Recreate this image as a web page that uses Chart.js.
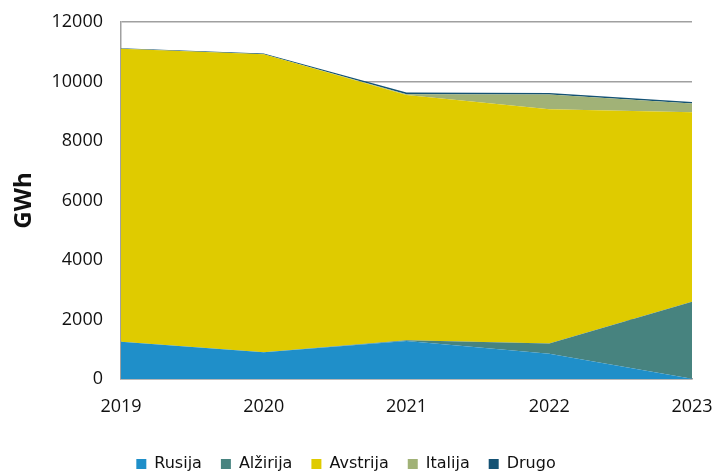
<!DOCTYPE html>
<html>
<head>
<meta charset="utf-8">
<script src="https://cdn.jsdelivr.net/npm/chart.js@4.4.1/dist/chart.umd.min.js"></script>
<style>
  html, body { margin: 0; padding: 0; background: #ffffff; }
  #wrap { width: 720px; height: 472px; }
</style>
</head>
<body>
<div id="wrap"><canvas id="chart" width="720" height="472"></canvas></div>
<script>
// Chart data
const years = ['2019', '2020', '2021', '2022', '2023'];
const rusija = [1250, 900, 1280, 850, 10];
const alzirija = [0, 0, 20, 340, 2590];
const avstrija = [9850, 10020, 8250, 7880, 6370];
const italija = [0, 0, 20, 490, 290];
const drugo = [20, 20, 60, 50, 50];
const yTicks = [0, 2000, 4000, 6000, 8000, 10000, 12000];

const FONT = "'Open Sans', 'DejaVu Sans', sans-serif";
const LEGEND_FONT = "'DejaVu Sans', sans-serif";

function series(label, data, color) {
    return {
        label: label,
        data: data,
        backgroundColor: color,
        borderColor: color,
        borderWidth: 0,
        pointRadius: 0,
        tension: 0,
        fill: label === 'Rusija' ? 'origin' : '-1'
    };
}

// Push the legend down towards the bottom edge, like in the original
const legendShift = {
    id: 'legendShift',
    afterLayout(chart) {
        if (chart.legend) {
            chart.legend.top += 10;
            chart.legend.bottom += 10;
        }
    }
};

const ctx = document.getElementById('chart').getContext('2d');
new Chart(ctx, {
    type: 'line',
    data: {
        labels: years,
        datasets: [
            series('Rusija', rusija, '#1f8fc9'),
            series('Alžirija', alzirija, '#47837f'),
            series('Avstrija', avstrija, '#dfcb00'),
            series('Italija', italija, '#a1b277'),
            series('Drugo', drugo, '#145274')
        ]
    },
    plugins: [legendShift],
    options: {
        responsive: false,
        animation: false,
        layout: { padding: { left: 0, right: 28, top: 22, bottom: 0 } },
        plugins: {
            legend: {
                position: 'bottom',
                labels: {
                    font: { family: LEGEND_FONT, size: 16 },
                    color: '#111',
                    boxWidth: 10,
                    boxHeight: 10,
                    padding: 19
                }
            },
            tooltip: { enabled: false }
        },
        scales: {
            x: {
                offset: false,
                grid: { display: false },
                border: { display: true, color: '#a0a0a0', width: 1.5 },
                ticks: {
                    font: { family: FONT, size: 18 },
                    color: '#111',
                    padding: 9,
                    maxRotation: 0
                },
                afterFit: function(scale) {
                    scale.height = 48;
                    scale.paddingLeft = 0;
                    scale.paddingRight = 0;
                }
            },
            y: {
                stacked: true,
                min: 0,
                max: 12000,
                afterBuildTicks: function(scale) {
                    scale.ticks = yTicks.map(v => ({ value: v }));
                },
                grid: { color: '#a0a0a0', lineWidth: 1.5, drawTicks: false },
                border: { display: true, color: '#a0a0a0', width: 1.5 },
                ticks: {
                    font: { family: FONT, size: 18 },
                    color: '#111',
                    padding: 18,
                    callback: function(value) { return String(value); }
                },
                title: {
                    display: true,
                    text: 'GWh',
                    font: { family: FONT, size: 24, weight: 'bold' },
                    color: '#111',
                    padding: { top: 10, bottom: 0 }
                },
                afterFit: function(scale) {
                    scale.width = 121;
                    scale.paddingTop = 0;
                    scale.paddingBottom = 0;
                }
            }
        }
    }
});
</script>
</body>
</html>
